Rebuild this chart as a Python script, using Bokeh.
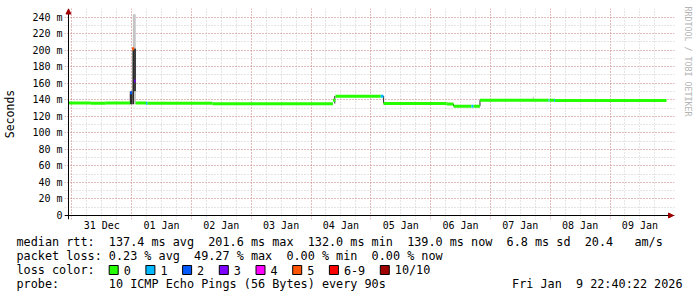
import pandas as pd
from bokeh.plotting import figure
from bokeh.layouts import column
from bokeh.core.properties import value
from bokeh.models import (FixedTicker, DatetimeTickFormatter, Arrow, NormalHead,
                          Range1d, ColumnDataSource, Span, LinearAxis)
from bokeh.embed import file_html
from bokeh.resources import INLINE

# ---------------- data ----------------
END_TIME = "2026-01-09 22:40:22"
SPAN_DAYS = 10

# median rtt as step segments (start time, median ms, loss class index)
seg_start = ["2025-12-30 22:40:22", "2025-12-31 07:40", "2025-12-31 13:40",
             "2025-12-31 23:24", "2026-01-01 00:12", "2026-01-01 01:00",
             "2026-01-01 01:36", "2026-01-01 05:48", "2026-01-01 06:24",
             "2026-01-02 08:24", "2026-01-04 08:48", "2026-01-04 09:48",
             "2026-01-05 04:00", "2026-01-05 05:05", "2026-01-06 06:24",
             "2026-01-06 09:12", "2026-01-06 16:24", "2026-01-06 17:12",
             "2026-01-06 19:48", "2026-01-07 23:20", "2026-01-07 23:44",
             "2026-01-08 01:32", "2026-01-08 01:56"]
seg_median = [136.2, 135.7, 136.2, 148.5, 201.6, 162.8, 136.0, 135.8, 135.8,
              135.0, 139.5, 144.3, 144.3, 135.4, 134.9, 132.0, 132.0, 132.0,
              139.3, 139.3, 139.3, 139.3, 139.2]
seg_loss = [0, 0, 0, 2, 5, 3, 0, 1, 0, 0, 0, 0, 1, 0, 0, 0, 1, 0, 0, 1, 0, 1, 0]

# smoke (spread of the individual pings): start, end, low ms, high ms, shade
smoke_start = ["2025-12-31 23:16", "2026-01-01 00:20", "2026-01-01 00:30",
               "2026-01-01 01:00", "2026-01-01 01:00", "2026-01-04 09:20",
               "2026-01-05 04:56", "2026-01-06 09:00", "2026-01-06 19:36",
               "2026-01-07 17:00"]
smoke_end = ["2026-01-01 00:20", "2026-01-01 01:00", "2026-01-01 01:40",
             "2026-01-01 01:44", "2026-01-01 01:44", "2026-01-04 09:44",
             "2026-01-05 05:20", "2026-01-06 09:24", "2026-01-06 20:00",
             "2026-01-07 17:24"]
smoke_low = [134.5, 134.5, 202.0, 150.0, 134.5, 135.5, 135.5, 132.0, 132.0, 139.3]
smoke_high = [150.0, 202.0, 243.5, 202.0, 150.0, 144.5, 144.5, 135.0, 139.5, 143.5]
smoke_shade = ["dark", "dark", "light", "dark", "light", "dark", "dark", "dark",
               "dark", "light"]

loss_labels = ["0", "1", "2", "3", "4", "5", "6-9", "10/10"]
loss_colors = ["#26ff00", "#00b8ff", "#0059ff", "#7e00ff", "#ff00ff",
               "#ff5500", "#ff0000", "#a00000"]

label_days = ["2025-12-31", "2026-01-01", "2026-01-02", "2026-01-03", "2026-01-04",
              "2026-01-05", "2026-01-06", "2026-01-07", "2026-01-08", "2026-01-09"]
y_ticks = [0, 20, 40, 60, 80, 100, 120, 140, 160, 180, 200, 220, 240]
Y_TOP = 245.5

rtt_stats = [137.4, 201.6, 132.0, 139.0]   # avg max min now (ms)
rtt_sd = 6.8
rtt_ams = 20.4
loss_stats = [0.23, 49.27, 0.00, 0.00]     # avg max min now (%)
probe_text = "10 ICMP Echo Pings (56 Bytes) every 90s"
stamp_text = "Fri Jan  9 22:40:22 2026"
watermark = "RRDTOOL / TOBI OETIKER"

NB = "\u00a0"

def keep_spaces(s):
    return s.replace(" ", NB)

# ---------------- main figure ----------------
MONO = "DejaVu Sans Mono"
end_t = pd.Timestamp(END_TIME)
start_t = end_t - pd.Timedelta(days=SPAN_DAYS)

def ms(ts):
    return pd.Timestamp(ts).value / 1e6

def dt(lst):
    return pd.to_datetime(lst, format="mixed")

PLOT_W = 600                    # px for the 10 days
PLOT_H = 203                    # px for 0..Y_TOP
px_ms = SPAN_DAYS * 86400000 / PLOT_W
px_val = Y_TOP / PLOT_H
PAD_L, PAD_R, PAD_T, PAD_B = 4, 8, 4, 4   # room for the axis arrows
H1 = 233

p = figure(width=697, height=H1, x_axis_type="datetime",
           output_backend="svg", toolbar_location=None,
           x_range=Range1d(ms(start_t) - PAD_L * px_ms, ms(end_t) + PAD_R * px_ms),
           y_range=Range1d(-PAD_B * px_val, Y_TOP + PAD_T * px_val),
           min_border_left=62, min_border_right=697 - 62 - PLOT_W - PAD_L - PAD_R,
           min_border_top=8, min_border_bottom=H1 - 8 - PLOT_H - PAD_T - PAD_B)
p.outline_line_color = None
p.background_fill_color = "white"
p.border_fill_color = "white"

# grids
midnights = pd.date_range("2025-12-31", "2026-01-09", freq="D")
six_hours = pd.date_range("2025-12-31 00:00", "2026-01-09 18:00", freq="6h")
p.xgrid.ticker = FixedTicker(ticks=[ms(t) for t in midnights],
                             minor_ticks=[ms(t) for t in six_hours])
p.ygrid.ticker = FixedTicker(ticks=y_ticks, minor_ticks=list(range(10, 250, 10)))
for g in (p.xgrid, p.ygrid):
    g.grid_line_color = "#e05050"
    g.grid_line_alpha = 0.55
    g.grid_line_dash = "1 2"
    g.minor_grid_line_color = "#bababa"
    g.minor_grid_line_alpha = 0.75
    g.minor_grid_line_dash = "1 2"

# x axis: labels at noon
noons = [ms(pd.Timestamp(d) + pd.Timedelta(hours=12)) for d in label_days]
xa = p.xaxis[0]
xa.ticker = FixedTicker(ticks=noons)
xa.formatter = DatetimeTickFormatter(days="%d %b", hours="%d %b", months="%d %b",
                                     minutes="%d %b", hourmin="%d %b")
xa.major_tick_line_color = None
xa.major_tick_out = 0
xa.major_tick_in = 0
xa.minor_tick_line_color = None
xa.axis_line_color = None
xa.major_label_text_font = MONO
xa.major_label_text_font_size = "10px"
xa.major_label_text_color = "black"
xa.major_label_standoff = 0

ya = p.yaxis[0]
ya.ticker = FixedTicker(ticks=y_ticks)
ya.major_label_overrides = {t: ("0" if t == 0 else f"{t}{NB}m") for t in y_ticks}
ya.major_tick_line_color = None
ya.major_tick_in = 0
ya.major_tick_out = 0
ya.minor_tick_line_color = None
ya.axis_line_color = None
ya.major_label_text_font = MONO
ya.major_label_text_font_size = "10px"
ya.major_label_text_color = "black"
ya.major_label_standoff = 2
ya.axis_label = "Seconds"
ya.axis_label_text_font = MONO
ya.axis_label_text_font_size = "11.5px"
ya.axis_label_text_font_style = "normal"
ya.axis_label_text_color = "black"
ya.axis_label_standoff = 12

# watermark on the right
ra = LinearAxis(ticker=FixedTicker(ticks=[]), axis_line_color=None,
                major_tick_line_color=None, minor_tick_line_color=None,
                major_tick_out=0, major_tick_in=0, major_label_standoff=0,
                axis_label=watermark + NB * 21,
                axis_label_text_font=MONO, axis_label_text_font_size="8.3px",
                axis_label_text_font_style="normal",
                axis_label_text_color="#b4b4b4", axis_label_standoff=8)
p.add_layout(ra, "right")

# smoke
shade_color = {"dark": "#2a2a2a", "light": "#c4c4c4"}
smoke = ColumnDataSource(dict(
    left=dt(smoke_start), right=dt(smoke_end),
    bottom=smoke_low, top=smoke_high,
    color=[shade_color[s] for s in smoke_shade]))
p.quad(left="left", right="right", bottom="bottom", top="top", source=smoke,
       fill_color="color", line_color=None)

# median line coloured by loss
seg = ColumnDataSource(dict(
    x0=dt(seg_start), x1=dt(seg_start[1:] + [END_TIME]),
    y=seg_median, color=[loss_colors[i] for i in seg_loss]))
p.segment(x0="x0", x1="x1", y0="y", y1="y", source=seg, line_color="color",
          line_width=3)

# axis lines with arrows
p.add_layout(Span(location=0, dimension="width", line_color="black", line_width=1))
p.add_layout(Span(location=ms(start_t), dimension="height", line_color="black",
                  line_width=1))
head = dict(size=5, fill_color="#a00000", line_color="#a00000")
p.add_layout(Arrow(end=NormalHead(**head), x_start=ms(end_t),
                   x_end=ms(end_t) + 7 * px_ms, y_start=0, y_end=0,
                   line_color="black", line_width=1))
p.add_layout(Arrow(end=NormalHead(**head), x_start=ms(start_t), x_end=ms(start_t),
                   y_start=Y_TOP, y_end=Y_TOP + 3.5 * px_val,
                   line_color="black", line_width=1))

# ---------------- legend block below ----------------
H2 = 297 - H1
q = figure(width=697, height=H2, output_backend="svg", toolbar_location=None,
           x_range=Range1d(0, 697), y_range=Range1d(H2, 0),
           min_border=0, min_border_left=0, min_border_right=0,
           min_border_top=0, min_border_bottom=0)
q.axis.visible = False
q.grid.visible = False
q.outline_line_color = None
q.background_fill_color = "white"
q.border_fill_color = "white"

for fig in (p, q):
    try:
        fig.frame_align = False
    except Exception:
        pass

line1 = ("median rtt:  %.1f ms avg  %.1f ms max  %.1f ms min  %.1f ms now  "
         "%.1f ms sd  %.1f   am/s" % (*rtt_stats, rtt_sd, rtt_ams))
line2 = "packet loss: %.2f %% avg  %.2f %% max  %.2f %% min  %.2f %% now" % tuple(loss_stats)
line4 = "probe:       " + probe_text

row_y = [241.5 - H1, 255.7 - H1, 269.5 - H1, 283.5 - H1]

tx, ty, tt = [], [], []
def put(txt, x, y):
    tx.append(x); ty.append(y); tt.append(keep_spaces(txt))

put(line1, 16, row_y[0])
put(line2, 16, row_y[1])
put("loss color:", 16, row_y[2])
put(line4, 16, row_y[3])

bx = 108.7
box_x, box_c = [], []
for lab, col in zip(loss_labels, loss_colors):
    box_x.append(bx + 4.5)
    box_c.append(col)
    put(lab, bx + 14.5, row_y[2])
    bx += 14.5 + 7.1 * len(lab) + 15.1

src = ColumnDataSource(dict(x=tx, y=ty, text=tt))
q.text(x="x", y="y", text="text", source=src, text_font=value(MONO),
       text_font_size="11.8px", text_baseline="middle", text_align="left",
       text_color="black")
q.text(x=[682], y=[row_y[3]], text=[keep_spaces(stamp_text)], text_font=value(MONO),
       text_font_size="11.8px", text_baseline="middle", text_align="right",
       text_color="black")
q.rect(x=box_x, y=[row_y[2]] * len(box_x), width=9, height=9, fill_color=box_c,
       line_color="black", line_width=1)

layout = column(p, q, spacing=0)
open("out.html", "w").write(file_html(layout, INLINE))
